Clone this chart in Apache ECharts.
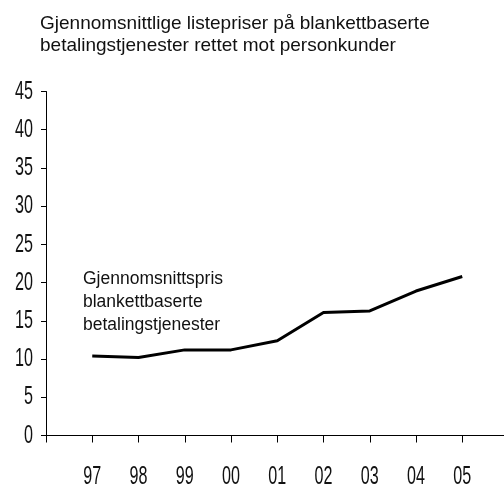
<!DOCTYPE html>
<html>
<head>
<meta charset="utf-8">
<script src="https://cdn.jsdelivr.net/npm/echarts@6/dist/echarts.min.js"></script>
<style>
  html, body { margin: 0; padding: 0; background: #fff; }
  #chart { width: 504px; height: 487px; }
</style>
</head>
<body>
<div id="chart"></div>
<script>
// år (x-akse)
var years = ['97', '98', '99', '00', '01', '02', '03', '04', '05'];
// gjennomsnittspris, kr
var prices = [10.4, 10.2, 11.2, 11.2, 12.4, 16.1, 16.3, 18.9, 20.8];
var yTicks = [0, 5, 10, 15, 20, 25, 30, 35, 40, 45];

var chart = echarts.init(document.getElementById('chart'));

var points = years.map(function (y, i) {
    return [i + 1, prices[i]];
});

chart.setOption({
    animation: false,
    title: {
        text: 'Gjennomsnittlige listepriser på blankettbaserte\nbetalingstjenester rettet mot personkunder',
        left: 35,
        top: 8,
        textStyle: {
            fontSize: 19,
            fontWeight: 'normal',
            color: '#111',
            lineHeight: 22,
            fontFamily: 'Liberation Sans, Arial, sans-serif'
        }
    },
    grid: {
        left: 46,
        width: 462.5,
        top: 91.5,
        bottom: 51.5,
        outerBoundsMode: 'none'
    },
    xAxis: {
        type: 'value',
        min: 0,
        max: 10,
        interval: 1,
        splitLine: { show: false },
        axisLine: { lineStyle: { color: '#000', width: 1 } },
        axisTick: { length: 7, lineStyle: { color: '#000' } },
        axisLabel: { show: false }
    },
    yAxis: {
        type: 'value',
        min: yTicks[0],
        max: yTicks[yTicks.length - 1],
        interval: yTicks[1] - yTicks[0],
        splitLine: { show: false },
        axisLine: { show: true, lineStyle: { color: '#000', width: 1 } },
        axisTick: { show: true, length: 5, lineStyle: { color: '#000' } },
        axisLabel: { show: false }
    },
    series: [{
        type: 'line',
        data: points,
        symbol: 'none',
        lineStyle: { color: '#000', width: 3 }
    }]
});

// smale (condensed) akseetiketter, plassert via aksenes skala
var narrow = {
    fontSize: 26,
    fill: '#111',
    fontFamily: 'Liberation Sans, Arial, sans-serif'
};
var labels = [];
years.forEach(function (yr, i) {
    var p = chart.convertToPixel({ xAxisIndex: 0, yAxisIndex: 0 }, [i + 1, 0]);
    labels.push({
        type: 'text',
        x: p[0],
        y: p[1] + 41,
        scaleX: 0.62,
        style: Object.assign({ text: yr, align: 'center', verticalAlign: 'middle' }, narrow)
    });
});
yTicks.forEach(function (v) {
    var p = chart.convertToPixel({ xAxisIndex: 0, yAxisIndex: 0 }, [0, v]);
    labels.push({
        type: 'text',
        x: p[0] - 13,
        y: p[1],
        scaleX: 0.62,
        style: Object.assign({ text: String(v), align: 'right', verticalAlign: 'middle' }, narrow)
    });
});
labels.push({
    type: 'text',
    left: 83,
    top: 268,
    style: {
        text: 'Gjennomsnittspris\nblankettbaserte\nbetalingstjenester',
        fontSize: 17.5,
        lineHeight: 23,
        fill: '#111',
        fontFamily: 'Liberation Sans, Arial, sans-serif'
    }
});
chart.setOption({ graphic: labels });
</script>
</body>
</html>
